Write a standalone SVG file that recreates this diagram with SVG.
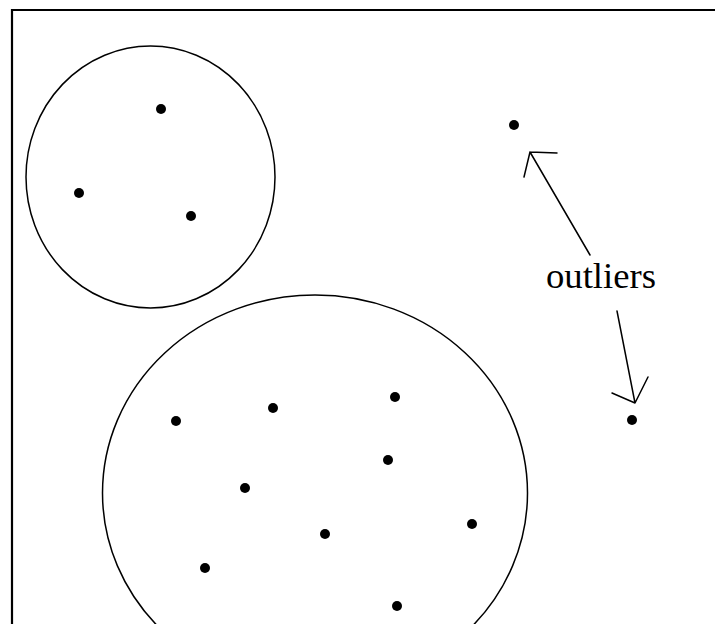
<svg xmlns="http://www.w3.org/2000/svg" width="715" height="624" viewBox="0 0 715 624">
<style>
.c{fill:none;stroke:#000;stroke-width:1.5}
.d{fill:#000}
.a{fill:none;stroke:#000;stroke-width:1.5;stroke-linecap:round;stroke-linejoin:round}
.t{font-family:"Liberation Serif","Times New Roman",serif;font-size:35px;fill:#000}
</style>
<rect width="715" height="624" fill="#fff"/>
<path d="M12 624 V10 H715" fill="none" stroke="#000" stroke-width="2.2"/>
<g id="cluster1">
<ellipse class="c" cx="150.5" cy="177" rx="124.5" ry="131"/>
<circle class="d" cx="161" cy="109" r="5"/>
<circle class="d" cx="79" cy="193" r="5"/>
<circle class="d" cx="191" cy="216" r="5"/>
</g>
<g id="cluster2">
<ellipse class="c" cx="315" cy="493" rx="212.5" ry="198"/>
<circle class="d" cx="176" cy="421" r="5"/>
<circle class="d" cx="273" cy="408" r="5"/>
<circle class="d" cx="395" cy="397" r="5"/>
<circle class="d" cx="388" cy="460" r="5"/>
<circle class="d" cx="245" cy="488" r="5"/>
<circle class="d" cx="325" cy="534" r="5"/>
<circle class="d" cx="472" cy="524" r="5"/>
<circle class="d" cx="205" cy="568" r="5"/>
<circle class="d" cx="397" cy="606" r="5"/>
</g>
<g id="outlier1"><circle class="d" cx="514" cy="125" r="5"/></g>
<g id="outlier2"><circle class="d" cx="632" cy="420" r="5"/></g>
<g id="label"><text class="t" x="546" y="288" textLength="110" lengthAdjust="spacingAndGlyphs">outliers</text></g>
<g id="connectors">
<path class="a" d="M590 255 L530 152 M557 153 L530 152 L524 177"/>
<path class="a" d="M617 311 L635 403 M612 393 L635 403 L648 377"/>
</g>
</svg>
